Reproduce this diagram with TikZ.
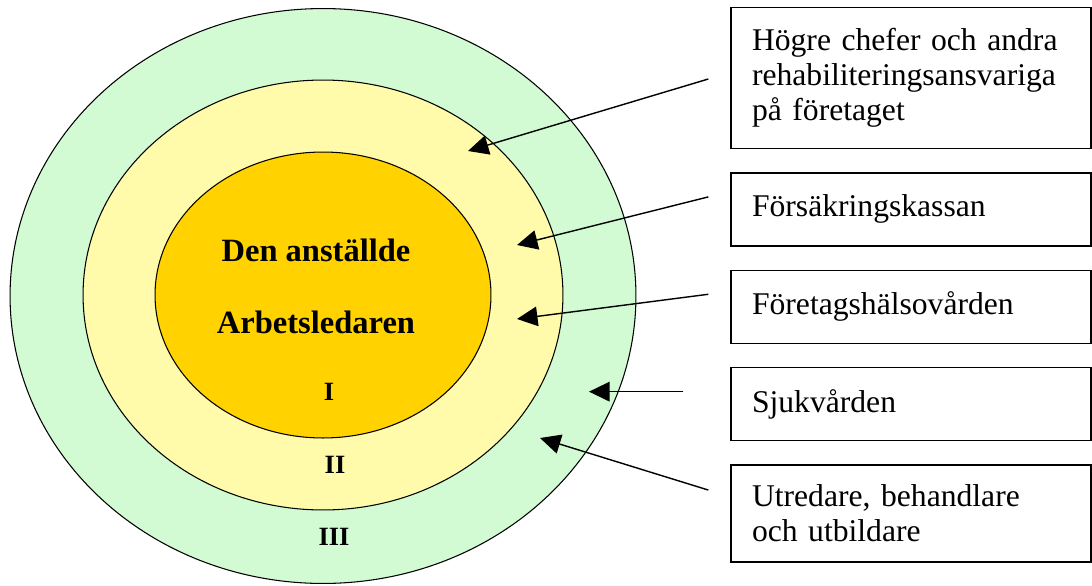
\documentclass[tikz,border=0pt]{standalone}
\usepackage{fontspec}
\setmainfont{Liberation Serif}
\definecolor{ringgreen}{HTML}{D2FBD4}
\definecolor{ringyellow}{HTML}{FFFBAA}
\definecolor{ringgold}{HTML}{FFD200}
\usetikzlibrary{shapes.geometric,arrows.meta,positioning}

\begin{document}
\begin{tikzpicture}[
  x=0.02cm, y=-0.02cm,
  ring/.style={ellipse, draw, line width=0.6pt, fill=#1, inner sep=0pt},
  actor/.style={draw, line width=0.8pt, minimum width=7.2cm, inner xsep=0.42cm,
    text width=6.36cm, align=left, font=\fontsize{18}{19.8}\selectfont},
  lvl/.style={font=\fontsize{15}{18}\selectfont\bfseries, anchor=base},
  who/.style={font=\fontsize{18.5}{21}\selectfont\bfseries, anchor=base},
  arr/.style={-{Triangle[length=0.41cm, width=0.39cm]}, line width=0.8pt},
  node distance=0.46cm
]
  \useasboundingbox (0,0) rectangle (1092,585);

  % Rings
  \node[ring=ringgreen, minimum width=12.52cm, minimum height=11.5cm] (outer) at (323,296) {};
  \node[ring=ringyellow, minimum width=9.6cm, minimum height=8.6cm] (middle) at (323,295) {};
  \node[ring=ringgold, minimum width=6.72cm, minimum height=5.72cm] (inner) at (323,295) {};

  \node[who] (emp) at (316,261) {Den anställde};
  \node[who] (lead) at (316,333) {Arbetsledaren};
  \node[lvl] (one) at (329,400) {I};
  \node[lvl] (two) at (335,473) {II};
  \node[lvl] (three) at (334,545) {III};

  % Actors
  \node[actor, minimum height=2.82cm] (chefs) at (911,78) {Högre chefer och andra\\rehabiliteringsansvariga\\på företaget};
  \node[actor, minimum height=1.46cm, below=of chefs] (fk) {Försäkringskassan};
  \node[actor, minimum height=1.46cm, below=of fk] (fhv) {Företagshälsovården};
  \node[actor, minimum height=1.46cm, below=of fhv] (sjv) {Sjukvården};
  \node[actor, minimum height=1.94cm, below=of sjv] (utb) {Utredare, behandlare\\och utbildare};

  % Arrow tips
  \coordinate (tChefs) at (468,151);
  \coordinate (tFk) at (517,245);
  \coordinate (tFhv) at (517,319);
  \coordinate (tSjv) at (589,391);
  \coordinate (tUtb) at (540,438);
  \coordinate (sSjv) at ([shift={(-0.94cm,0.25cm)}]sjv.west);

  \draw[arr] ([shift={(-0.44cm,-0.02cm)}]chefs.west) -- (tChefs);
  \draw[arr] ([shift={(-0.44cm,0.25cm)}]fk.west) -- (tFk);
  \draw[arr] ([shift={(-0.44cm,0.25cm)}]fhv.west) -- (tFhv);
  \draw[arr] (sSjv) -- (sSjv -| tSjv);
  \draw[arr] ([shift={(-0.44cm,0.47cm)}]utb.west) -- (tUtb);
\end{tikzpicture}
\end{document}
